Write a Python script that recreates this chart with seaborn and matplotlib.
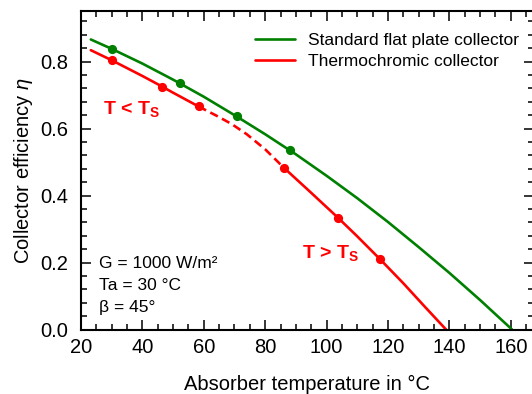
import matplotlib
matplotlib.use("Agg")
import matplotlib.pyplot as plt
import seaborn as sns
import pandas as pd
from matplotlib.lines import Line2D
from matplotlib.ticker import MultipleLocator

# ---- data ----
green_curve_T = [23.2, 30, 40, 50, 60, 70, 80, 90, 100, 110, 120, 130, 140, 150, 160.4]
green_curve_eta = [0.866, 0.838, 0.794, 0.746, 0.695, 0.640, 0.583, 0.523, 0.459, 0.392,
                   0.321, 0.246, 0.169, 0.088, 0.0]
green_pts_T = [30.0, 52.2, 70.9, 88.1]
green_pts_eta = [0.838, 0.736, 0.636, 0.535]

red_low_T = [23.2, 30, 40, 46.5, 50, 58.3]
red_low_eta = [0.834, 0.804, 0.757, 0.725, 0.707, 0.666]
red_dash_T = [58.3, 64, 69, 74, 80, 86.2]
red_dash_eta = [0.666, 0.639, 0.614, 0.583, 0.538, 0.482]
red_high_T = [86.2, 95, 103.8, 110, 117.4, 125, 132, 138.9]
red_high_eta = [0.482, 0.408, 0.333, 0.278, 0.210, 0.138, 0.068, 0.0]
red_pts_T = [30.0, 46.5, 58.3, 86.2, 103.8, 117.4]
red_pts_eta = [0.804, 0.725, 0.666, 0.482, 0.333, 0.210]

legend_labels = ["Standard flat plate collector", "Thermochromic collector"]
x_ticks = [20, 40, 60, 80, 100, 120, 140, 160]
y_ticks = [0.0, 0.2, 0.4, 0.6, 0.8]

GREEN = "#008000"
RED = "#ff0000"

sns.set_theme(style="ticks")
plt.rcParams["font.family"] = ["Liberation Sans", "DejaVu Sans"]
plt.rcParams["mathtext.fontset"] = "custom"
plt.rcParams["mathtext.rm"] = "Liberation Sans"
plt.rcParams["mathtext.it"] = "Liberation Sans:italic"
plt.rcParams["mathtext.bf"] = "Liberation Sans:bold"
plt.rcParams["text.color"] = "black"
plt.rcParams["axes.labelcolor"] = "black"
plt.rcParams["xtick.color"] = "black"
plt.rcParams["ytick.color"] = "black"

fig = plt.figure(figsize=(5.32, 3.94), dpi=100)
ax = fig.add_axes([81 / 532, (394 - 329.5) / 394, (533.5 - 81) / 532, (329.5 - 11) / 394])

lw = 1.9
df_g = pd.DataFrame({"T": green_curve_T, "eta": green_curve_eta})
sns.lineplot(data=df_g, x="T", y="eta", ax=ax, color=GREEN, lw=lw, sort=False)
df_rl = pd.DataFrame({"T": red_low_T, "eta": red_low_eta})
sns.lineplot(data=df_rl, x="T", y="eta", ax=ax, color=RED, lw=lw, sort=False)
df_rd = pd.DataFrame({"T": red_dash_T, "eta": red_dash_eta})
sns.lineplot(data=df_rd, x="T", y="eta", ax=ax, color=RED, lw=lw, sort=False,
             dashes=False, linestyle=(0, (3.2, 1.8)))
df_rh = pd.DataFrame({"T": red_high_T, "eta": red_high_eta})
sns.lineplot(data=df_rh, x="T", y="eta", ax=ax, color=RED, lw=lw, sort=False)

df_gp = pd.DataFrame({"T": green_pts_T, "eta": green_pts_eta})
sns.scatterplot(data=df_gp, x="T", y="eta", ax=ax, color=GREEN, s=44, linewidth=0, zorder=5)
df_rp = pd.DataFrame({"T": red_pts_T, "eta": red_pts_eta})
sns.scatterplot(data=df_rp, x="T", y="eta", ax=ax, color=RED, s=44, linewidth=0, zorder=5)

ax.set_xlim(20, 167.4)
ax.set_ylim(0, 0.951)
ax.set_xticks(x_ticks)
ax.set_yticks(y_ticks)
ax.set_yticklabels([f"{v:.1f}" for v in y_ticks])
ax.xaxis.set_minor_locator(MultipleLocator(5))
ax.yaxis.set_minor_locator(MultipleLocator(0.04))
ax.tick_params(which="both", direction="in", top=True, right=True, colors="black",
               labelsize=14.5, width=1.1)
ax.tick_params(which="major", length=7)
ax.tick_params(axis="x", which="major", pad=6)
ax.tick_params(axis="y", which="major", pad=9)
ax.tick_params(which="minor", length=4)
for sp in ax.spines.values():
    sp.set_linewidth(1.5)
    sp.set_color("black")

ax.set_xlabel("Absorber temperature in °C", fontsize=14.5, labelpad=13, color="black")
ax.set_ylabel(r"Collector efficiency $\mathit{\eta}$", fontsize=14.5, labelpad=4, color="black")

handles = [Line2D([], [], color=GREEN, lw=lw), Line2D([], [], color=RED, lw=lw)]
leg = ax.legend(handles, legend_labels, loc="upper right", bbox_to_anchor=(0.99, 0.965),
                frameon=False, fontsize=12.5, handlelength=2.3, handletextpad=0.7,
                labelspacing=0.37, borderaxespad=0.2)
for t in leg.get_texts():
    t.set_color("black")

ax.text(25.8, 0.132, "G = 1000 W/m²\nTa = 30 °C\nβ = 45°", fontsize=12.5,
        va="center", ha="left", linespacing=1.58, color="black")
ax.text(27.2, 0.658, r"T < T$_\mathbf{S}$", fontsize=14, color=RED, fontweight="bold",
        va="center", ha="left")
ax.text(92.0, 0.228, r"T > T$_\mathbf{S}$", fontsize=14, color=RED, fontweight="bold",
        va="center", ha="left")

fig.savefig("out.png", dpi=100)
